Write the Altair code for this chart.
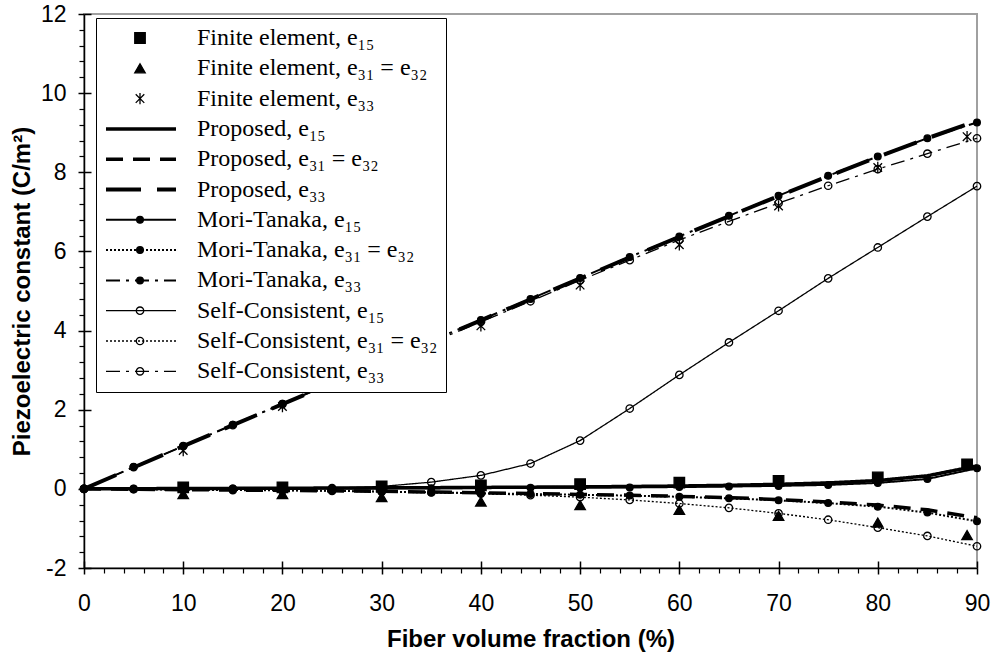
import altair as alt
import pandas as pd

# ---------------- data ----------------
x_model = [0, 5, 10, 15, 20, 25, 30, 35, 40, 45, 50, 55, 60, 65, 70, 75, 80, 85, 90]
x_fe = [10, 20, 30, 40, 50, 60, 70, 80, 89]

fe_e15 = [0.04, 0.04, 0.06, 0.09, 0.12, 0.16, 0.20, 0.29, 0.62]
fe_e31 = [-0.13, -0.13, -0.21, -0.32, -0.41, -0.53, -0.68, -0.85, -1.17]
fe_e33 = [0.97, 2.08, 3.12, 4.12, 5.15, 6.17, 7.15, 8.12, 8.90]

prop_e15 = [0, 0.004, 0.008, 0.012, 0.016, 0.02, 0.025, 0.03, 0.036, 0.043, 0.05, 0.06, 0.072, 0.09, 0.115, 0.15, 0.21, 0.33, 0.58]
prop_e31 = [0, -0.01, -0.02, -0.03, -0.04, -0.05, -0.06, -0.08, -0.10, -0.12, -0.14, -0.16, -0.19, -0.22, -0.27, -0.33, -0.41, -0.53, -0.73]
prop_e33 = [0, 0.54, 1.08, 1.61, 2.14, 2.67, 3.20, 3.73, 4.26, 4.79, 5.32, 5.85, 6.37, 6.89, 7.40, 7.90, 8.39, 8.86, 9.30]

mt_e15 = [0, 0.002, 0.004, 0.006, 0.008, 0.01, 0.013, 0.016, 0.02, 0.025, 0.03, 0.037, 0.046, 0.058, 0.075, 0.10, 0.15, 0.25, 0.52]
mt_e31 = [0, -0.01, -0.02, -0.03, -0.04, -0.05, -0.07, -0.09, -0.11, -0.13, -0.15, -0.17, -0.20, -0.24, -0.29, -0.36, -0.45, -0.60, -0.82]
mt_e33 = [0, 0.55, 1.08, 1.62, 2.15, 2.68, 3.20, 3.74, 4.27, 4.80, 5.33, 5.86, 6.38, 6.90, 7.41, 7.91, 8.40, 8.86, 9.26]

sc_e15 = [0, 0, 0.001, 0.003, 0.007, 0.02, 0.06, 0.17, 0.34, 0.64, 1.22, 2.03, 2.88, 3.70, 4.50, 5.32, 6.10, 6.88, 7.65]
sc_e31 = [0, -0.01, -0.02, -0.03, -0.04, -0.05, -0.07, -0.09, -0.12, -0.16, -0.21, -0.28, -0.37, -0.48, -0.62, -0.78, -0.98, -1.19, -1.45]
sc_e33 = [0, 0.55, 1.08, 1.61, 2.14, 2.66, 3.18, 3.70, 4.22, 4.74, 5.27, 5.78, 6.29, 6.76, 7.22, 7.66, 8.08, 8.47, 8.86]

labels = [
    "Finite element, e\u2081\u2085",
    "Finite element, e\u2083\u2081 = e\u2083\u2082",
    "Finite element, e\u2083\u2083",
    "Proposed, e\u2081\u2085",
    "Proposed, e\u2083\u2081 = e\u2083\u2082",
    "Proposed, e\u2083\u2083",
    "Mori-Tanaka, e\u2081\u2085",
    "Mori-Tanaka, e\u2083\u2081 = e\u2083\u2082",
    "Mori-Tanaka, e\u2083\u2083",
    "Self-Consistent, e\u2081\u2085",
    "Self-Consistent, e\u2083\u2081 = e\u2083\u2082",
    "Self-Consistent, e\u2083\u2083",
]
labels2 = [s + " " for s in labels]

x_major = [0, 10, 20, 30, 40, 50, 60, 70, 80, 90]
x_minor = [v for v in range(0, 91, 2) if v % 10 != 0]
y_major = [-2, 0, 2, 4, 6, 8, 10, 12]
y_minor = [round(-2 + 0.4 * i, 1) for i in range(36) if i % 5 != 0]

# ---------------- tables ----------------
line_series = [
    (3, prop_e15), (4, prop_e31), (5, prop_e33),
    (6, mt_e15), (7, mt_e31), (8, mt_e33),
    (9, sc_e15), (10, sc_e31), (11, sc_e33),
]
rows = []
for idx, vals in line_series:
    for xv, yv in zip(x_model, vals):
        rows.append({"x": xv, "y": yv, "series": labels[idx]})
line_df = pd.DataFrame(rows)

prow = []
for idx, xs, vals in [(0, x_fe, fe_e15), (1, x_fe, fe_e31), (2, x_fe, fe_e33),
                      (6, x_model, mt_e15), (7, x_model, mt_e31), (8, x_model, mt_e33),
                      (9, x_model, sc_e15), (10, x_model, sc_e31), (11, x_model, sc_e33)]:
    for xv, yv in zip(xs, vals):
        prow.append({"x": xv, "y": yv, "series2": labels2[idx]})
point_df = pd.DataFrame(prow)

# ---------------- styles ----------------
dash_range = [[1, 0], [1, 0], [1, 0],
              [1, 0], [17, 10], [35, 16],
              [1, 0], [2, 2], [14, 6, 3, 6],
              [1, 0], [2, 2], [14, 6, 3, 6]]
width_range = [0, 0, 0, 3.5, 3.5, 4, 2, 2, 2, 1.3, 1.3, 1.3]

asterisk = "M0,-1L0,1M-0.75,-0.75L0.75,0.75M-0.75,0.75L0.75,-0.75"
shape_range = ["square", "triangle-up", asterisk,
               "circle", "circle", "circle",
               "circle", "circle", "circle",
               "circle", "circle", "circle"]
fill_range = ["black", "black", "transparent",
              "black", "black", "black",
              "black", "black", "black",
              "transparent", "transparent", "transparent"]
stroke_range = ["black"] * 12
size_range = [110, 110, 130, 10, 10, 10, 45, 45, 45, 55, 55, 55]
opacity_range = [1, 1, 1, 0, 0, 0, 1, 1, 1, 1, 1, 1]

xscale = alt.Scale(domain=[0, 90], nice=False)
yscale = alt.Scale(domain=[-2, 12], nice=False)

FONT = "Liberation Sans"
SERIF = "Liberation Serif"

common_axis = dict(tickColor="black", tickWidth=1.5, domainColor="black",
                   domainWidth=1.5, grid=False)

x_main = alt.Axis(values=x_major, tickSize=6, labelFont=FONT, labelFontSize=23,
                  labelColor="black", labelPadding=18, labelFlush=False,
                  labelOverlap=False, title="Fiber volume fraction (%)",
                  titleFont=FONT, titleFontSize=24, titleFontWeight="bold",
                  titleColor="black", titlePadding=12, orient="bottom",
                  labelExpr="'' + datum.value", **common_axis)
y_main = alt.Axis(values=y_major, tickSize=6, labelFont=FONT, labelFontSize=23,
                  labelColor="black", labelPadding=12, labelFlush=False,
                  labelOverlap=False, title="Piezoelectric constant (C/m\u00b2)",
                  titleFont=FONT, titleFontSize=24, titleFontWeight="bold",
                  titleColor="black", titlePadding=6, orient="left",
                  labelExpr="'' + datum.value", **common_axis)

x_minor_ax = alt.Axis(values=x_minor, tickSize=5, labels=False, domain=False,
                      title=None, orient="bottom", tickColor="black",
                      tickWidth=1.2, grid=False)
y_minor_ax = alt.Axis(values=y_minor, tickSize=5, labels=False, domain=False,
                      title=None, orient="left", tickColor="black",
                      tickWidth=1.2, grid=False)
x_inner_ax = alt.Axis(values=x_major, tickSize=7, offset=-7, labels=False,
                      domain=False, title=None, orient="bottom",
                      tickColor="black", tickWidth=1.5, grid=False)
y_inner_ax = alt.Axis(values=y_major, tickSize=7, offset=-7, labels=False,
                      domain=False, title=None, orient="left",
                      tickColor="black", tickWidth=1.5, grid=False)

legend_lines = alt.Legend(
    orient="none", legendX=12, legendY=4, title=None, values=labels,
    symbolType="stroke", symbolSize=4900, symbolStrokeColor="black",
    labelFont=SERIF, labelFontSize=24, labelColor="black", labelOffset=19,
    labelLimit=500, rowPadding=6.3, padding=8, clipHeight=24,
    strokeColor="black", fillColor="white", zindex=1,
)
legend_points = alt.Legend(
    orient="none", legendX=36, legendY=4, title=None, values=labels2,
    symbolStrokeColor="black", symbolStrokeWidth=1.3,
    labelFont=SERIF, labelFontSize=24, labelOpacity=0, labelExpr="''",
    labelOffset=19, labelLimit=500, rowPadding=6.3, padding=8,
    clipHeight=24, zindex=2,
)

lines = alt.Chart(line_df).mark_line(color="black").encode(
    x=alt.X("x:Q", scale=xscale, axis=x_main),
    y=alt.Y("y:Q", scale=yscale, axis=y_main),
    strokeDash=alt.StrokeDash("series:N", scale=alt.Scale(domain=labels, range=dash_range),
                              legend=legend_lines),
    strokeWidth=alt.StrokeWidth("series:N",
                                scale=alt.Scale(type="ordinal", domain=labels, range=width_range),
                                legend=legend_lines),
)

points = alt.Chart(point_df).mark_point(color="black", strokeWidth=1.3, opacity=1).encode(
    x=alt.X("x:Q", scale=xscale, axis=x_minor_ax),
    y=alt.Y("y:Q", scale=yscale, axis=y_minor_ax),
    shape=alt.Shape("series2:N", scale=alt.Scale(domain=labels2, range=shape_range),
                    legend=legend_points),
    fill=alt.Fill("series2:N", scale=alt.Scale(domain=labels2, range=fill_range),
                  legend=legend_points),
    stroke=alt.Stroke("series2:N", scale=alt.Scale(domain=labels2, range=stroke_range),
                      legend=legend_points),
    size=alt.Size("series2:N", scale=alt.Scale(type="ordinal", domain=labels2, range=size_range),
                  legend=legend_points),
    opacity=alt.Opacity("series2:N", scale=alt.Scale(type="ordinal", domain=labels2, range=opacity_range),
                        legend=legend_points),
)

inner = alt.Chart(point_df).mark_point(opacity=0).encode(
    x=alt.X("x:Q", scale=xscale, axis=x_inner_ax),
    y=alt.Y("y:Q", scale=yscale, axis=y_inner_ax),
)

chart = alt.layer(lines, points, inner).resolve_axis(
    x="independent", y="independent"
).properties(
    width=893, height=554,
    padding={"left": 84, "top": 14, "right": 16, "bottom": 89},
    autosize=alt.AutoSizeParams(type="none"),
    background="white",
).configure_view(
    stroke="#a0a0a0", strokeWidth=2, fill="white"
)

chart.save("out.html", embed_options={"renderer": "svg", "actions": False})
